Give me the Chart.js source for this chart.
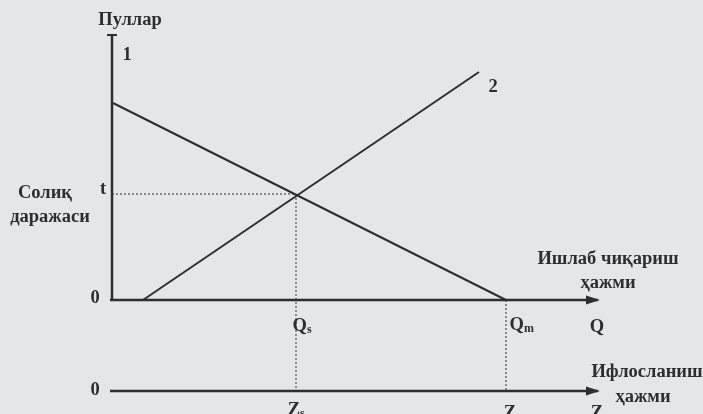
<!DOCTYPE html>
<html><head><meta charset="utf-8">
<script src="https://cdn.jsdelivr.net/npm/chart.js@4"></script>
<style>html,body{margin:0;padding:0;background:#e5e6e8;}#w{width:703px;height:414px;}</style>
</head><body><div id="w"><canvas id="c"></canvas></div>
<script>
// Model values (abstract units)
const tRate = 10.6;          // tax level t
const Qs = 18.4;             // socially optimal output
const Qm = 39.4;             // market output
const zAxisLevel = -9.1;     // pollution axis baseline
const yTop = 26.5;           // top of the money axis
const qEnd = 48.6;           // end of Q / Z axes
const line1 = [{x:0.1,y:19.7},{x:Qm,y:0}];      // curve 1
const line2 = [{x:3.1,y:0},{x:36.7,y:22.8}];    // curve 2
const axisY = [{x:0,y:0},{x:0,y:yTop}];
const axisQ = [{x:-0.2,y:0},{x:qEnd,y:0}];
const axisZ = [{x:-0.2,y:zAxisLevel},{x:qEnd,y:zAxisLevel}];
const tLine = [{x:0,y:tRate},{x:Qs,y:tRate}];
const qsLine = [{x:Qs,y:tRate},{x:Qs,y:zAxisLevel}];
const qmLine = [{x:Qm,y:0},{x:Qm,y:zAxisLevel}];

const ink = '#2e2e31';
const F = 'bold 18.5px "Liberation Serif", "DejaVu Serif", serif';
const labels = [
  {t:'Пуллар', x:1.8, y:28.0},
  {t:'1', x:1.5, y:24.5},
  {t:'2', x:38.1, y:21.3},
  {t:'Солиқ', x:-6.7, y:10.7},
  {t:'даражаси', x:-6.2, y:8.3},
  {t:'t', x:-0.9, y:11.1},
  {t:'0', x:-1.7, y:0.2},
  {t:'0', x:-1.7, y:-9.0},
  {t:'Ишлаб чиқариш', x:49.6, y:4.1},
  {t:'ҳажми', x:49.6, y:1.7},
  {t:'Q', x:48.5, y:-2.7},
  {t:'Ифлосланиш', x:53.5, y:-7.2},
  {t:'ҳажми', x:53.1, y:-9.7},
  {t:'Z', x:48.5, y:-11.3}
];
const subLabels = [
  {t:'Q', s:'s', x:19.5, y:-2.6},
  {t:'Q', s:'m', x:41.2, y:-2.5},
  {t:'Z', s:'s', x:18.8, y:-11.0},
  {t:'Z', s:'m', x:40.4, y:-11.3}
];

const ds = (data, width, dash) => ({data, showLine:true, borderColor:ink, borderWidth:width,
  borderDash:dash||[], pointRadius:0, fill:false, tension:0});

const deco = {
  id:'deco',
  afterDatasetsDraw(chart){
    const c = chart.ctx, xs = chart.scales.x, ys = chart.scales.y;
    const px = v => xs.getPixelForValue(v), py = v => ys.getPixelForValue(v);
    c.save();
    c.fillStyle = ink; c.strokeStyle = ink;
    [[qEnd,0],[qEnd,zAxisLevel]].forEach(([x,y])=>{
      const X=px(x), Y=py(y);
      c.beginPath(); c.moveTo(X+2,Y); c.lineTo(X-12,Y-4.5); c.lineTo(X-12,Y+4.5); c.closePath(); c.fill();
    });
    c.lineWidth = 2;
    c.beginPath(); c.moveTo(px(0)-5,py(yTop)); c.lineTo(px(0)+5,py(yTop)); c.stroke();
    c.font = F; c.textAlign='center'; c.textBaseline='middle';
    labels.forEach(l=>c.fillText(l.t, px(l.x), py(l.y)));
    subLabels.forEach(l=>{
      c.font = F; c.textAlign='right';
      const X=px(l.x), Y=py(l.y);
      c.fillText(l.t, X, Y);
      c.font = 'bold 12px "Liberation Serif", serif'; c.textAlign='left';
      c.fillText(l.s, X, Y+4);
    });
    c.restore();
  }
};

new Chart(document.getElementById('c'), {
  type:'scatter',
  data:{datasets:[
    ds(axisY,2.5), ds(axisQ,2.5), ds(axisZ,2.5),
    ds(line1,2), ds(line2,2),
    ds(tLine,1,[2,2]), ds(qsLine,1,[2,2]), ds(qmLine,1,[2,2])
  ]},
  options:{
    responsive:true, maintainAspectRatio:false, animation:false,
    layout:{padding:0},
    plugins:{legend:{display:false}, tooltip:{enabled:false}},
    scales:{
      x:{type:'linear', min:-11.2, max:59.1, display:false},
      y:{type:'linear', min:-11.4, max:30.0, display:false}
    }
  },
  plugins:[deco]
});
</script></body></html>
